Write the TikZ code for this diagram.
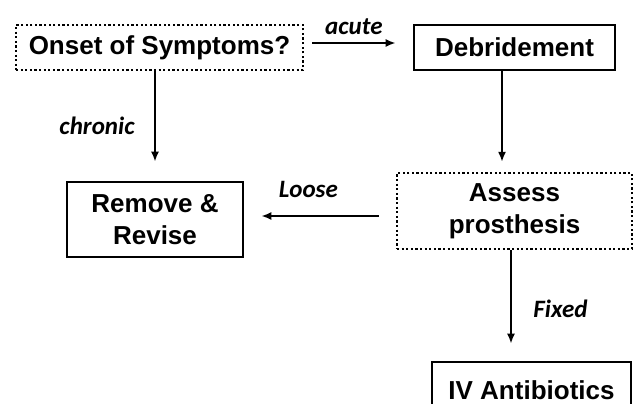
\documentclass[tikz,border=0pt]{standalone}
\usepackage{fontspec}
\setmainfont{Liberation Sans}
\newfontfamily\lblfont{Carlito}
\usetikzlibrary{arrows.meta}

\begin{document}
\begin{tikzpicture}[x=1pt, y=-1pt,
    box/.style={draw, line width=2.6pt, font=\fontsize{26}{32}\selectfont\bfseries, align=center, inner sep=0pt},
    dotbox/.style={box, line width=2.2pt, dash pattern=on 2.2pt off 2.4pt},
    arr/.style={-{Latex[length=10pt,width=8pt]}, line width=2.2pt},
    lbl/.style={font=\fontsize{25}{27}\lblfont\bfseries\itshape}]
    \clip (0, 0) rectangle (635, 404);

    % boxes
    \node[dotbox, minimum width=287pt, minimum height=45pt] (onset) at (159.5, 47.5) {Onset of Symptoms?};
    \node[box, minimum width=201pt, minimum height=45pt] (debr) at (514.5, 47.5) {Debridement};
    \node[box, minimum width=176pt, minimum height=75pt] (remove) at (155, 219.5) {Remove \&\\Revise};
    \node[dotbox, minimum width=235pt, minimum height=76pt] (assess) at (514.5, 211) {Assess\\prosthesis};
    \node[box, minimum width=199pt, minimum height=56pt] (iv) at (531.5, 390) {IV Antibiotics};

    % arrows
    \draw[arr] ([xshift=8pt, yshift=4.5pt]onset.east) -- ([xshift=-17pt, yshift=4.5pt]debr.west)
        node[lbl, midway, above=4pt] {acute};
    \draw[arr] (onset.south -| remove.north) -- ([yshift=19pt]remove.north)
        node[lbl, pos=0.6, left=16pt] {chronic};
    \draw[arr] ([xshift=-12.5pt]debr.south) -- ([xshift=-12.5pt, yshift=10pt]assess.north);
    \draw[arr] ([xshift=-17pt, yshift=-5pt]assess.west) -- ([xshift=17pt, yshift=3.5pt]remove.east)
        node[lbl, pos=0.6, above=14pt] {Loose};
    \draw[arr] ([xshift=-3.5pt]assess.south) -- ([xshift=-20.5pt, yshift=17pt]iv.north)
        node[lbl, pos=0.63, right=18pt] {Fixed};
\end{tikzpicture}
\end{document}
